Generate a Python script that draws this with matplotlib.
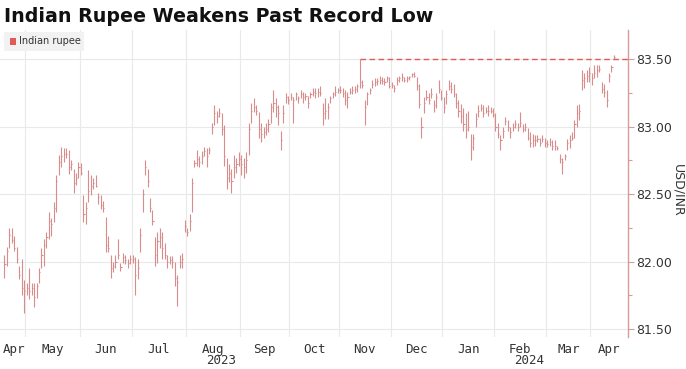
import matplotlib
matplotlib.use("Agg")
import matplotlib.pyplot as plt
import numpy as np

# ---- data (trading-day index on x) ----
high = [82.05, 82.11, 82.25, 82.25, 82.19, 82.11, 81.97, 82.02, 81.86,
        81.84, 81.95, 81.84, 81.84, 81.84, 81.95, 82.10, 82.17, 82.22, 82.37, 82.32, 82.44, 82.64, 82.79, 82.85, 82.84, 82.84, 82.83, 82.75, 82.69, 82.66, 82.74,
        82.73, 82.49, 82.44, 82.68, 82.64, 82.62, 82.64, 82.51, 82.49, 82.45, 82.33, 82.19, 82.05, 82.00, 82.05, 82.17, 81.99, 82.06, 82.05, 82.02, 82.05,
        82.05, 82.03, 82.02, 82.25, 82.54, 82.75, 82.69, 82.47, 82.38, 82.18, 82.22, 82.25, 82.22, 82.14, 82.05, 82.04, 82.04, 82.00, 81.90, 82.05, 82.06, 82.31,
        82.25, 82.35, 82.62, 82.75, 82.83, 82.78, 82.82, 82.85, 82.84, 82.85, 83.03, 83.16, 83.12, 83.14, 83.10, 83.01, 82.77, 82.72, 82.69, 82.79, 82.77, 82.81,
        82.79, 82.77, 82.81, 83.03, 83.18, 83.21, 83.16, 83.11, 83.03, 83.00, 83.03, 83.06, 83.18, 83.27, 83.21, 83.16, 82.97, 83.16, 83.25, 83.23,
        83.25, 83.22, 83.26, 83.23, 83.27, 83.26, 83.25, 83.23, 83.26, 83.29, 83.29, 83.29, 83.30, 83.18, 83.21, 83.18, 83.23, 83.26, 83.30, 83.29,
        83.30, 83.29, 83.27, 83.26, 83.29, 83.30, 83.30, 83.32, 83.50, 83.35, 83.20, 83.26, 83.29, 83.35, 83.36, 83.36, 83.38, 83.37, 83.36, 83.38, 83.37,
        83.33, 83.31, 83.37, 83.38, 83.40, 83.37, 83.38, 83.38, 83.40, 83.41, 83.37, 83.32, 83.07, 83.22, 83.27, 83.25, 83.29, 83.20, 83.25, 83.35, 83.27,
        83.22, 83.27, 83.35, 83.33, 83.32, 83.25, 83.20, 83.17, 83.14, 83.10, 83.12, 82.95, 82.95, 83.10, 83.16, 83.17, 83.16, 83.15, 83.16, 83.15, 83.14,
        83.10, 83.03, 82.94, 83.00, 83.07, 83.05, 83.00, 83.03, 83.05, 83.03, 83.11, 83.02, 83.03, 82.99, 82.96, 82.95, 82.94, 82.94, 82.92, 82.94, 82.92,
        82.90, 82.92, 82.90, 82.90, 82.86, 82.80, 82.77, 82.80, 82.91, 82.94, 82.96, 83.05, 83.16, 83.17, 83.42, 83.40, 83.42, 83.44,
        83.40, 83.46, 83.46, 83.46, 83.33, 83.32, 83.27, 83.40, 83.46, 83.53]

low = [81.88, 81.97, 82.10, 82.14, 82.08, 81.99, 81.87, 81.75, 81.62,
       81.75, 81.72, 81.75, 81.66, 81.73, 81.84, 81.95, 81.97, 82.10, 82.17, 82.19, 82.29, 82.37, 82.64, 82.70, 82.74, 82.77, 82.65, 82.68, 82.51, 82.57, 82.62,
       82.64, 82.29, 82.28, 82.44, 82.49, 82.54, 82.55, 82.43, 82.39, 82.37, 82.07, 82.07, 81.88, 81.92, 81.95, 82.02, 81.93, 81.99, 81.98, 81.95, 81.98,
       81.99, 81.75, 81.87, 82.07, 82.37, 82.64, 82.55, 82.37, 82.27, 81.97, 81.99, 82.10, 82.02, 82.02, 81.95, 81.98, 81.95, 81.82, 81.67, 81.95, 81.95, 82.22,
       82.19, 82.23, 82.37, 82.70, 82.71, 82.70, 82.72, 82.78, 82.70, 82.80, 82.95, 83.01, 83.03, 83.07, 82.94, 82.71, 82.54, 82.59, 82.51, 82.62, 82.66, 82.71,
       82.64, 82.62, 82.66, 82.79, 83.03, 83.11, 83.09, 82.92, 82.89, 82.92, 82.94, 82.96, 83.03, 83.11, 83.07, 83.01, 82.83, 83.03, 83.18, 83.17,
       83.20, 83.03, 83.20, 83.18, 83.21, 83.18, 83.20, 83.14, 83.21, 83.23, 83.21, 83.22, 83.23, 83.01, 83.06, 83.06, 83.18, 83.21, 83.23, 83.25,
       83.25, 83.22, 83.16, 83.14, 83.24, 83.24, 83.25, 83.26, 83.29, 83.29, 83.01, 83.16, 83.24, 83.29, 83.30, 83.31, 83.32, 83.32, 83.31, 83.33, 83.29,
       83.29, 83.26, 83.31, 83.33, 83.34, 83.33, 83.33, 83.35, 83.37, 83.37, 83.27, 83.14, 82.92, 83.10, 83.20, 83.17, 83.21, 83.11, 83.14, 83.25, 83.20,
       83.10, 83.17, 83.27, 83.25, 83.22, 83.14, 83.07, 83.03, 82.97, 82.92, 82.97, 82.75, 82.83, 83.00, 83.07, 83.12, 83.07, 83.10, 83.08, 83.10, 83.07,
       82.97, 82.92, 82.83, 82.92, 83.01, 82.97, 82.92, 82.97, 82.99, 82.97, 83.00, 82.96, 82.97, 82.90, 82.85, 82.85, 82.86, 82.89, 82.86, 82.89, 82.85,
       82.85, 82.86, 82.83, 82.83, 82.83, 82.73, 82.65, 82.75, 82.83, 82.84, 82.90, 82.92, 83.00, 83.05, 83.27, 83.29, 83.33, 83.33,
       83.31, 83.36, 83.37, 83.41, 83.25, 83.22, 83.15, 83.33, 83.41, 83.50]

close = [81.98, 82.08, 82.20, 82.16, 82.10, 82.02, 81.90, 81.80, 81.78,
         81.80, 81.78, 81.80, 81.74, 81.82, 81.92, 82.05, 82.12, 82.18, 82.30, 82.28, 82.40, 82.60, 82.74, 82.78, 82.80, 82.80, 82.70, 82.72, 82.58, 82.62, 82.70,
         82.66, 82.35, 82.40, 82.52, 82.56, 82.58, 82.56, 82.48, 82.42, 82.40, 82.12, 82.10, 81.95, 81.97, 82.00, 82.05, 81.96, 82.03, 82.01, 81.99, 82.02,
         82.02, 81.90, 81.95, 82.20, 82.50, 82.70, 82.60, 82.40, 82.30, 82.05, 82.15, 82.18, 82.10, 82.05, 82.00, 82.01, 82.00, 81.88, 81.85, 82.00, 82.02, 82.26,
         82.22, 82.30, 82.58, 82.73, 82.76, 82.74, 82.78, 82.82, 82.78, 82.83, 83.00, 83.10, 83.08, 83.10, 82.98, 82.78, 82.62, 82.66, 82.60, 82.70, 82.72, 82.76,
         82.72, 82.70, 82.75, 82.98, 83.12, 83.15, 83.12, 82.98, 82.95, 82.96, 82.98, 83.02, 83.15, 83.18, 83.15, 83.10, 82.90, 83.10, 83.22, 83.20,
         83.22, 83.20, 83.24, 83.21, 83.24, 83.22, 83.23, 83.18, 83.24, 83.26, 83.25, 83.26, 83.25, 83.10, 83.12, 83.15, 83.21, 83.24, 83.26, 83.27,
         83.27, 83.25, 83.20, 83.22, 83.26, 83.27, 83.28, 83.30, 83.33, 83.31, 83.15, 83.24, 83.27, 83.32, 83.33, 83.34, 83.35, 83.34, 83.33, 83.36, 83.30,
         83.31, 83.29, 83.35, 83.36, 83.37, 83.35, 83.36, 83.37, 83.39, 83.38, 83.30, 83.17, 83.00, 83.18, 83.22, 83.20, 83.24, 83.16, 83.22, 83.28, 83.21,
         83.15, 83.24, 83.30, 83.28, 83.24, 83.18, 83.12, 83.08, 83.02, 82.98, 83.00, 82.85, 82.92, 83.06, 83.12, 83.14, 83.10, 83.12, 83.12, 83.12, 83.09,
         83.00, 82.95, 82.90, 82.97, 83.04, 83.00, 82.96, 83.00, 83.02, 83.00, 83.03, 82.98, 83.00, 82.92, 82.88, 82.90, 82.90, 82.91, 82.88, 82.91, 82.88,
         82.87, 82.89, 82.86, 82.86, 82.84, 82.76, 82.74, 82.78, 82.88, 82.90, 82.92, 83.02, 83.10, 83.12, 83.35, 83.36, 83.38, 83.40,
         83.36, 83.40, 83.42, 83.43, 83.28, 83.26, 83.20, 83.38, 83.44, 83.52]

month_labels = ["Apr", "May", "Jun", "Jul", "Aug", "Sep", "Oct", "Nov", "Dec", "Jan", "Feb", "Mar", "Apr"]
month_starts = [0, 9, 31, 52, 74, 96, 116, 136, 157, 178, 199, 220, 238]   # trading-day index of first session
year_labels = {"Aug": "2023", "Feb": "2024"}
record_level = 83.50
yticks = [81.50, 82.00, 82.50, 83.00, 83.50]

# ---- style ----
BAR = "#d98c8c"
RED = "#e05a5a"
AXIS = "#d99a9a"
GRID = "#e9e9e9"
TXT = "#333333"
W, H = 686, 369

fig = plt.figure(figsize=(6.86, 3.69), dpi=100)
ax = fig.add_axes([0.0, 1 - 337 / H, 628 / W, (337 - 30) / H])

n = len(close)
x = np.arange(n)
xmin, xmax = -1.8, 252.7
ax.set_xlim(xmin, xmax)
ax.set_ylim(81.44, 83.718)

# grid
for ms in month_starts[1:]:
    ax.axvline(ms - 0.5, color=GRID, lw=0.8, zorder=0)
for yt in yticks:
    ax.axhline(yt, color=GRID, lw=0.8, zorder=0)

# OHLC-style bars (high-low + close tick)
ax.vlines(x, low, high, color=BAR, lw=0.8, zorder=2)
ax.hlines(close, x, x + 0.45, color=BAR, lw=0.8, zorder=2)

# record line from the earlier record bar
hi = np.array(high)
rec_i = int(np.argmax(hi[:-1]))
ax.hlines(record_level, rec_i, xmax, colors=RED, linestyles=(0, (4, 2.5)), lw=1.0, zorder=3)

# spines
for s in ["top", "left", "bottom"]:
    ax.spines[s].set_visible(False)
ax.spines["right"].set_color(AXIS)
ax.spines["right"].set_linewidth(1.0)

# y axis on right
ax.yaxis.tick_right()
ax.set_yticks(yticks)
ax.set_yticklabels([f"{v:.2f}" for v in yticks])
ax.set_yticks(np.arange(81.75, 83.6, 0.5), minor=True)
ax.tick_params(axis="y", which="major", length=4, width=0.8, color=AXIS, labelsize=9,
               labelcolor=TXT, pad=2)
ax.tick_params(axis="y", which="minor", length=3, width=0.8, color=AXIS)
fig.text(678 / W, 1 - 190 / H, "USD/INR", rotation=270, fontsize=9, color=TXT,
         ha="center", va="center")

# x axis: month labels centered on visible month span
bounds = month_starts + [xmax]
centers = []
for k in range(len(month_labels)):
    a = max(bounds[k] - 0.5, xmin)
    b = bounds[k + 1] - 0.5 if k + 1 < len(month_labels) else xmax
    centers.append((a + b) / 2)
ax.set_xticks(centers)
ax.set_xticklabels(month_labels, fontsize=9, color=TXT, family="DejaVu Sans Mono")
ax.tick_params(axis="x", length=0, pad=4)
for lbl, c in zip(month_labels, centers):
    if lbl in year_labels:
        xf = ax.transData.transform((c + 3.5, 0))[0] / fig.bbox.width
        fig.text(xf, 1 - 361 / H, year_labels[lbl], ha="center", va="center",
                 fontsize=9, color=TXT, family="DejaVu Sans Mono")

# title
fig.text(0.006, 0.955, "Indian Rupee Weakens Past Record Low", fontsize=13.7, fontweight="bold",
         color="#111111", ha="left", va="center")

# legend box
from matplotlib.patches import Rectangle
fig.patches.append(Rectangle((4 / W, 1 - 51 / H), 80 / W, 19 / H, transform=fig.transFigure,
                             facecolor="#f2f2f2", edgecolor="none", zorder=5))
fig.patches.append(Rectangle((10 / W, 1 - 45 / H), 6 / W, 7 / H, transform=fig.transFigure,
                             facecolor=RED, edgecolor="none", zorder=6))
fig.text(19 / W, 1 - 41.5 / H, "Indian rupee", fontsize=7, color=TXT, ha="left", va="center", zorder=7)

fig.savefig("out.png", dpi=100, facecolor="white")
